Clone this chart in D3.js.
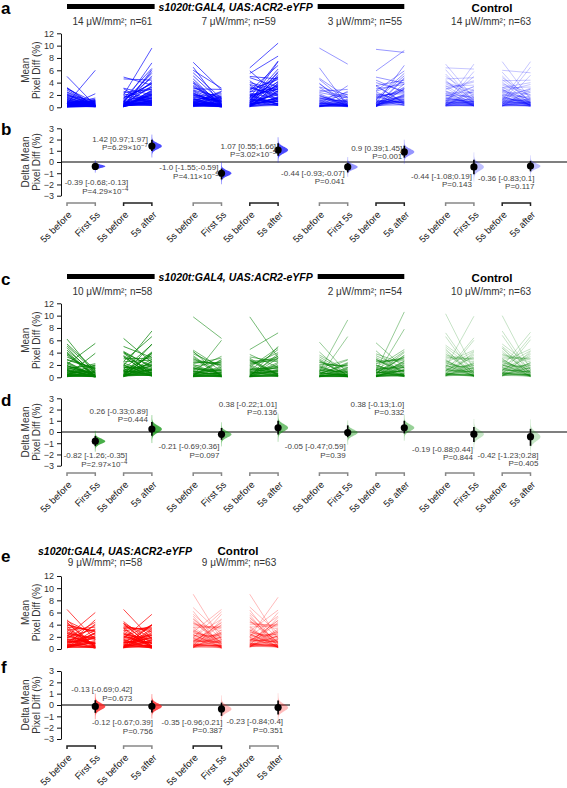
<!DOCTYPE html>
<html><head><meta charset="utf-8">
<script src="https://cdn.jsdelivr.net/npm/d3@7"></script>
<style>
body{margin:0;background:#fff}
svg{display:block}
text{font-family:"Liberation Sans",Arial,Helvetica,sans-serif}
</style>
</head><body>
<svg id="chart" width="567" height="788"></svg>
<script>
// ---------------- DATA ----------------
const xLabels = ["5s before","First 5s","5s before","5s after"];
const titleGenotype = "s1020t:GAL4, UAS:ACR2-eYFP";
const titleControl = "Control";
const aSubtitles = ["14 μW/mm²; n=61","7 μW/mm²; n=59","3 μW/mm²; n=55","14 μW/mm²; n=63"];
const cSubtitles = ["10 μW/mm²; n=58","","2 μW/mm²; n=54","10 μW/mm²; n=63"];
const eSubtitles = ["9 μW/mm²; n=58","9 μW/mm²; n=63"];
const meanTicks = [0,2,4,6,8,10,12];
const deltaTicks = [-3,-2,-1,0,1,2,3];

// panel a : paired values (before, after) per pair
const a1_before=[0.1,0.2,0.3,0.1,0.5,0.8,1.2,0.4,0.2,0.0, 0.6,1.5,2.1,0.3,0.9,1.8,3.1,0.2,0.7,1.1, 0.4,2.5,0.1,0.3,5.0,0.6,1.4,0.2,0.9,2.8, 0.5,0.1,1.7,0.3,3.2,0.4,1.0,0.2,2.2,0.6, 0.1,1.3,0.8,0.3,2.0,0.5,0.2,1.6,0.4,0.7, 3.0,0.1,0.9,0.3,1.2,0.6,2.4,0.2,0.5,1.9, 0.8];
const a1_after =[0.2,0.3,0.1,0.6,0.5,0.2,0.3,0.4,0.1,0.2, 6.0,0.3,0.2,1.3,0.8,0.6,0.1,1.1,0.9,0.4, 0.9,0.5,0.1,0.7,0.3,1.5,0.4,0.1,1.0,0.2, 0.4,2.2,0.1,0.5,0.2,1.2,0.1,0.8,0.2,0.3, 0.3,0.2,0.7,0.4,0.1,0.9,0.2,0.3,0.6,0.2, 0.8,0.4,0.1,1.0,0.3,0.6,0.2,0.5,0.1,1.1, 0.3];
const a2_before=[0.3,0.1,0.6,0.2,1.0,0.4,1.8,0.2,0.5,0.1, 2.2,0.7,0.3,4.9,0.9,0.1,1.4,0.4,3.1,0.2, 0.6,1.2,0.2,0.8,0.3,2.6,0.1,0.5,1.6,0.4, 0.2,0.9,4.6,0.3,1.1,0.6,0.2,2.0,0.1,0.7, 0.4,1.3,0.2,0.5,3.0,0.1,0.8,0.3,1.5,0.6, 0.2,1.9,0.4,0.1,0.9,2.4,0.3,0.6,1.0,0.2, 0.5];
const a2_after =[0.3,2.8,0.6,4.2,1.0,3.5,0.8,2.1,0.4,1.2, 0.9,7.2,1.4,3.6,0.5,2.5,6.3,1.1,2.0,5.1, 1.5,4.0,2.2,0.4,5.8,1.3,2.4,0.7,3.0,1.8, 2.3,0.3,4.4,0.6,1.9,3.3,1.0,9.6,2.7,0.8, 2.0,3.9,1.2,2.6,0.5,6.1,1.7,0.9,3.8,1.4, 0.8,3.2,2.0,1.1,5.5,2.9,0.4,1.6,4.8,0.7, 1.5];
const a3_before=[0.5,1.2,0.3,2.4,0.8,3.6,0.2,1.5,4.2,0.6, 7.3,1.0,2.8,0.4,5.1,1.8,0.3,3.2,0.9,6.0, 0.2,2.1,1.3,0.7,4.6,0.5,2.6,0.1,1.6,3.9, 0.8,0.4,5.6,1.1,0.3,2.3,0.6,3.0,1.4,0.2, 1.9,0.5,4.0,0.9,2.0,0.3,6.5,1.2,0.7,2.7, 0.4,1.7,0.2,3.4,0.6,1.0,0.3,2.2,0.8];
const a3_after =[0.3,2.0,0.8,0.1,1.5,0.4,1.2,0.1,0.6,0.2, 2.8,0.4,1.6,0.1,0.9,2.2,0.2,1.4,0.5,3.1, 1.8,0.7,0.0,1.3,0.2,2.5,0.3,0.6,1.0,0.1, 0.1,0.6,1.4,0.3,1.1,0.1,0.5,2.9,0.2,0.4, 1.2,0.3,0.5,2.6,0.1,1.0,0.4,1.7,0.2,0.9, 0.3,1.0,0.1,0.4,0.3,1.5,0.1,0.8,0.2];
const a4_before=[0.4,1.1,0.2,2.0,0.7,3.3,0.1,1.4,4.0,0.5, 6.4,0.9,2.5,0.3,4.8,1.6,0.2,2.9,0.8,5.5, 0.2,1.9,1.2,0.6,4.3,0.4,2.3,0.1,1.5,3.6, 0.7,0.3,5.0,1.0,0.2,2.1,0.5,2.7,1.3,0.2, 1.7,0.4,3.7,0.8,1.8,0.2,5.9,1.1,0.6,2.5, 0.3,1.5,0.1,3.1,0.5,0.9,0.2,2.0,0.7];
const a4_after =[1.2,6.2,3.1,0.4,5.0,1.8,3.9,0.6,2.8,1.5, 10.4,2.0,4.9,0.6,3.3,7.5,1.0,4.5,2.2,8.3, 5.3,2.9,0.3,4.2,1.1,5.8,1.4,2.6,3.6,0.8, 0.4,2.7,4.6,1.3,3.8,0.5,2.4,6.8,0.9,1.7, 4.1,1.5,2.5,7.4,0.5,3.4,1.9,5.6,1.0,3.2, 1.6,3.5,0.6,2.1,1.2,4.8,0.3,3.0,0.9];
const a5_before=[0.3,1.0,0.2,2.2,0.6,9.6,0.1,1.5,3.8,0.4, 6.4,0.8,2.4,0.2,4.5,1.3,0.1,2.8,0.7,0.5, 0.2,1.8,1.0,0.5,3.9,0.3,2.0,0.1,1.2,3.2, 0.6,0.2,4.7,0.9,0.1,1.9,0.4,2.6,1.1,0.2, 1.4,0.3,3.3,0.7,1.6];
const a5_after =[0.1,2.1,0.9,0.3,0.2,7.0,1.2,0.4,0.7,0.1, 0.2,0.3,1.5,0.2,0.8,2.4,0.6,1.6,0.4,3.5, 1.8,0.6,0.4,1.3,0.1,2.6,0.2,0.3,1.1,0.5, 0.3,0.7,1.6,0.1,1.0,0.2,0.4,2.9,0.5,0.3, 0.9,0.3,2.0,0.2,0.8];
const a6_before=[0.4,1.2,0.2,2.5,0.7,9.4,0.1,1.7,4.0,0.5, 5.9,0.9,2.6,0.3,4.4,1.4,0.2,3.0,0.8,0.6, 0.3,2.0,1.1,0.5,3.6,0.2,2.2,0.1,1.3,3.4, 0.6,0.3,4.9,1.0,0.1,2.0,0.4,2.7,1.2,0.2, 1.5,0.4,3.5,0.8,1.7];
const a6_after =[1.2,5.1,3.0,0.5,1.4,8.9,3.8,0.6,2.6,1.0, 9.2,1.7,4.1,0.4,2.4,5.5,0.9,3.7,1.9,6.8, 4.8,2.2,0.3,3.3,0.6,4.6,1.1,2.0,3.1,0.8, 0.5,2.1,3.9,0.9,3.0,0.3,1.8,5.9,0.7,1.3, 2.8,1.6,4.4,0.8,2.5];
const a7_before=[0.5,1.4,0.3,2.6,0.9,4.2,0.2,1.8,3.5,0.6, 7.0,1.1,2.9,0.4,5.0,1.6,0.3,3.2,1.0,6.1, 0.4,2.2,1.3,0.7,4.4,0.5,2.5,0.2,1.5,3.8, 0.8,0.4,5.4,1.2,0.3,2.3,0.6,3.0,1.4,0.2, 1.9,0.5,4.0,0.9,2.0,0.3,6.4,1.2,0.7,2.7, 0.4,1.7,0.2,3.4,0.6,1.0,0.3,2.2,0.8,4.6, 1.1,0.5,2.0];
const a7_after =[0.3,0.9,2.6,1.4,0.4,1.2,0.5,3.3,0.8,7.0, 1.5,0.6,4.1,0.2,1.9,0.7,2.8,0.4,5.0,0.9, 1.1,0.2,3.4,0.9,0.6,5.8,0.3,1.7,0.5,2.2, 0.4,3.0,0.7,1.3,0.2,2.4,0.6,4.3,0.9,0.3, 1.8,0.4,2.7,0.5,1.0,0.3,6.2,0.8,1.4,0.2, 2.1,0.5,0.9,3.6,0.3,1.2,0.4,1.6,0.7,4.8, 0.6,1.0,0.2];
const a8_before=[0.6,1.5,0.2,2.8,1.0,4.5,0.3,1.9,3.3,0.7, 7.4,1.2,2.6,0.5,4.8,1.7,0.2,3.0,1.1,5.7, 0.3,2.3,1.4,0.8,4.1,0.4,2.7,0.2,1.6,3.6, 0.9,0.5,5.1,1.3,0.2,2.5,0.7,3.2,1.5,0.3, 2.0,0.6,3.8,1.0,2.1,0.4,6.0,1.3,0.8,2.9, 0.5,1.8,0.3,3.1,0.7,1.1,0.2,2.4,0.9,4.3, 1.2,0.4,1.9];
const a8_after =[0.2,0.8,3.0,1.2,0.5,1.0,0.4,2.9,0.7,6.5, 1.3,0.5,3.7,0.3,1.7,0.8,2.5,0.3,7.4,0.7, 1.0,0.3,3.1,0.8,0.5,5.2,0.2,1.5,0.6,2.0, 0.5,2.7,0.6,1.2,0.3,2.1,0.5,4.0,0.8,0.2, 1.6,0.3,2.4,0.4,0.9,0.2,5.6,0.7,1.3,0.3, 1.9,0.4,0.8,3.3,0.2,1.1,0.5,1.4,0.6,4.4, 0.5,0.9,0.1];

// panel c
const c1_before=[0.4,1.3,0.2,2.4,0.8,3.9,0.1,1.6,6.2,0.5, 5.1,1.0,2.8,0.3,4.4,1.5,0.2,3.3,0.9,2.1, 0.3,1.9,1.2,0.6,4.8,0.4,2.5,0.1,1.4,3.6, 0.7,0.3,5.4,1.1,0.2,2.2,0.5,2.9,1.3,0.2, 1.8,0.4,3.8,0.8,1.9,0.3,4.1,1.1];
const c1_after =[0.2,2.2,0.5,0.1,1.8,0.2,1.0,0.3,0.6,0.1, 0.9,0.3,1.4,0.1,0.6,1.9,0.1,1.2,0.3,5.5, 3.9,0.5,0.0,1.1,0.1,2.0,0.2,0.4,0.8,0.1, 0.1,0.5,1.2,0.2,0.9,0.1,0.4,1.5,0.1,0.2, 0.4,1.6,0.1,0.8,0.3,1.4,0.2,0.7];
const c2_before=[0.3,1.1,0.2,2.0,0.7,3.5,0.1,1.4,4.0,0.5, 6.3,0.9,2.5,0.3,4.2,1.3,0.2,3.0,0.8,1.9, 0.2,1.7,1.0,0.5,4.1,0.4,2.3,0.1,1.2,3.3, 0.6,0.3,5.0,1.0,0.2,2.0,0.4,2.6,1.1,0.2, 1.6,0.4,3.4,0.7,1.7,0.2,3.9,1.0];
const c2_after =[0.8,3.5,1.9,0.2,4.1,1.0,2.6,0.3,1.8,0.5, 2.4,1.1,2.8,0.3,1.6,5.3,0.4,3.1,1.2,7.5, 4.0,1.5,0.2,2.9,0.5,3.8,0.7,1.3,2.2,0.4, 0.3,1.2,3.2,0.6,2.5,0.3,1.4,6.6,0.3,0.8, 1.3,5.4,0.2,1.9,0.9,3.9,0.5,2.1];
const c3_before=[0.3,1.0,0.2,2.2,0.6,3.8,0.1,1.5,9.8,0.4, 4.4,0.8,2.5,0.2,4.1,1.2,0.1,2.9,0.7,1.8, 0.2,1.6,1.0,0.5,3.5,0.3,2.1,0.1,1.3,4.2, 0.5,0.2,2.7,0.9,0.1,1.9,0.4,2.4,1.1,0.2, 1.4,0.3,3.1,0.6,1.5,0.2,3.3,0.9];
const c3_after =[0.3,1.2,0.1,3.1,0.5,1.8,0.3,0.8,6.3,0.2, 1.5,0.5,2.3,0.1,1.0,3.4,0.2,2.0,0.6,2.5, 6.0,1.0,0.1,1.7,0.2,2.9,0.4,0.8,1.3,0.1, 0.1,0.9,2.0,0.3,1.5,0.1,0.7,2.3,0.2,0.4, 0.7,2.8,0.1,1.2,0.5,2.6,0.3,1.1];
const c4_before=[0.2,0.9,0.1,1.9,0.5,3.3,0.1,1.3,9.8,0.3, 4.5,0.7,2.2,0.2,3.7,1.1,0.1,2.6,0.6,1.6, 0.1,1.4,0.9,0.4,3.1,0.2,1.9,0.1,1.1,2.8, 0.4,0.2,2.4,0.8,0.1,1.7,0.3,2.1,1.0,0.1, 1.2,0.3,2.7,0.5,1.3,0.1,2.9,0.7];
const c4_after =[0.6,1.8,0.2,4.0,0.9,2.5,0.3,1.4,3.2,0.4, 7.2,0.9,3.3,0.2,1.6,4.5,0.3,3.0,1.1,4.8, 5.0,1.5,0.1,2.4,0.4,3.8,0.6,1.2,1.9,0.3, 0.2,1.3,2.7,0.5,2.2,0.2,1.1,3.0,0.3,0.6, 0.9,3.5,0.2,1.7,0.7,3.1,0.4,1.6];
const c5_before=[0.2,0.9,0.1,1.8,0.5,3.0,0.1,1.2,5.7,0.3, 3.6,0.7,2.1,0.2,3.3,1.0,0.1,2.4,0.6,1.5, 0.1,1.3,0.8,0.4,2.8,0.2,1.7,0.1,1.0,4.1, 0.4,0.2,2.4,0.7,0.1,1.6,0.3,2.0,0.9,0.1, 1.1,0.3,2.6,0.5,1.2,0.1,2.7,0.6,0.2,1.4, 0.3,0.8,0.1,1.9];
const c5_after =[0.2,9.3,0.9,0.1,2.4,0.3,1.5,0.2,0.6,0.1, 1.1,0.4,1.9,0.1,0.7,2.8,0.1,1.6,0.4,2.9, 6.6,0.7,0.1,1.3,0.1,2.2,0.3,0.5,0.9,0.1, 0.1,0.6,1.6,0.2,1.2,0.1,0.5,1.9,0.1,0.3, 1.0,0.1,0.4,2.3,0.1,0.9,0.3,2.1,0.2,0.8, 1.5,0.1,0.5,0.2];
const c6_before=[0.3,1.0,0.1,2.0,0.6,3.2,0.1,1.3,5.6,0.4, 3.8,0.8,2.3,0.2,3.5,1.1,0.1,2.6,0.7,1.6, 0.2,1.4,0.9,0.5,3.0,0.2,1.9,0.1,1.1,4.3, 0.4,0.2,2.6,0.8,0.1,1.7,0.3,2.2,1.0,0.1, 1.2,0.3,2.8,0.6,1.3,0.1,2.9,0.7,0.2,1.5, 0.3,0.9,0.1,2.0];
const c6_after =[0.6,10.6,1.8,0.2,4.0,0.9,2.6,0.2,1.5,0.5, 2.2,1.0,3.2,0.2,1.5,4.2,0.3,2.9,1.1,4.5, 7.8,1.5,0.1,2.4,0.3,3.6,0.7,1.2,1.9,0.3, 0.2,1.3,2.7,0.4,2.2,0.2,1.1,3.1,0.3,0.6, 2.0,0.3,0.9,3.5,0.2,1.7,0.8,3.3,0.4,1.6, 2.6,0.1,1.2,0.4];
const c7_before=[0.5,1.6,0.3,2.8,1.0,4.4,0.2,2.0,10.3,0.6, 5.2,1.2,3.2,0.4,4.9,1.7,0.3,3.6,1.1,2.4, 0.4,2.3,1.4,0.8,4.1,0.5,2.7,0.2,1.6,6.6, 0.7,0.4,3.4,1.3,0.3,2.5,0.6,3.0,1.5,0.2, 1.8,0.5,3.8,0.9,2.0,0.3,7.2,1.1,0.4,2.2, 0.6,1.5,0.2,2.9,0.8,1.9,0.3,4.6,1.0,0.5, 2.6,0.7,1.2];
const c7_after =[0.4,9.9,1.6,0.1,3.8,0.7,2.3,0.2,1.2,0.3, 1.9,0.8,3.1,0.2,1.3,4.2,0.3,2.8,0.9,4.4, 6.0,1.2,0.1,2.2,0.3,3.6,0.6,1.1,1.9,0.3, 0.1,1.2,2.5,0.4,2.0,0.2,1.0,3.0,0.3,0.5, 1.8,0.3,0.8,6.4,0.2,1.6,0.7,3.3,0.3,1.4, 0.3,0.7,4.1,0.2,1.5,0.6,2.5,0.1,1.1,0.4, 0.9,0.5,2.2];
const c8_before=[0.6,1.7,0.3,3.0,1.1,4.7,0.2,2.1,10.0,0.7, 5.4,1.3,3.3,0.4,5.0,1.8,0.3,3.7,1.2,2.5, 0.5,2.4,1.5,0.9,4.3,0.6,2.8,0.2,1.7,6.8, 0.8,0.4,3.6,1.4,0.3,2.6,0.7,3.1,1.6,0.3, 1.9,0.6,4.0,1.0,2.1,0.4,7.5,1.2,0.5,2.3, 0.7,1.6,0.2,3.0,0.9,2.0,0.4,4.8,1.1,0.6, 2.7,0.8,1.3];
const c8_after =[0.4,7.3,1.6,0.1,3.9,0.7,2.4,0.2,1.2,0.4, 1.9,0.8,3.1,0.2,1.3,4.3,0.2,2.8,0.9,4.6, 6.1,1.2,0.1,2.2,0.3,3.7,0.6,1.0,1.9,0.3, 0.1,1.1,2.5,0.4,2.0,0.2,1.0,3.0,0.2,0.5, 1.8,0.3,0.8,6.6,0.2,1.6,0.7,3.4,0.3,1.4, 0.3,0.7,4.2,0.2,1.5,0.6,2.4,0.1,1.1,0.4, 0.9,0.5,2.2];

// panel e
const e1_before=[0.5,1.8,0.3,3.2,1.1,4.8,0.2,2.3,6.5,0.7, 4.6,1.4,3.6,0.4,2.7,1.9,0.3,3.9,1.2,2.1, 0.4,2.5,1.6,0.9,4.3,0.6,2.9,0.2,1.5,3.4, 0.8,0.3,4.0,1.3,0.2,2.6,0.6,3.1,1.7,0.3, 2.0,0.5,3.7,1.0,2.2,0.4,4.4,1.1];
const e1_after =[1.0,4.4,1.9,0.5,3.9,0.3,2.6,0.7,1.5,0.4, 2.4,0.9,3.0,0.2,1.6,3.3,0.3,2.9,1.1,6.0, 2.7,1.8,0.1,2.5,0.3,4.8,0.5,1.2,2.1,0.6, 0.2,1.4,2.8,0.4,2.2,0.3,1.0,3.6,0.9,0.5, 0.9,4.1,0.2,1.9,0.8,3.2,0.3,1.7];
const e2_before=[0.6,1.7,0.4,3.0,1.0,4.5,0.2,2.2,6.5,0.8, 4.2,1.3,3.4,0.5,2.5,1.8,0.3,3.6,1.1,2.0, 0.3,2.4,1.5,0.8,4.1,0.5,2.7,0.2,1.4,3.3, 0.7,0.3,3.8,1.2,0.2,2.5,0.5,3.0,1.6,0.2, 1.9,0.4,3.5,1.0,2.1,0.3,4.2,1.0];
const e2_after =[0.6,5.7,2.0,0.3,4.0,0.9,2.7,0.5,1.6,0.4, 1.8,1.0,3.4,0.2,1.6,2.3,0.4,3.1,1.2,3.9, 3.0,1.3,0.1,2.5,0.4,3.9,0.6,1.4,2.2,0.3, 0.2,1.5,2.8,0.4,2.3,0.2,1.1,3.6,0.2,0.6, 0.9,4.0,0.2,1.9,0.9,3.3,0.4,1.7];
const e3_before=[0.6,1.9,0.3,3.3,1.2,5.0,0.2,2.4,9.0,0.8, 6.8,1.5,3.8,0.4,5.7,2.0,0.3,4.2,1.3,2.8, 0.5,2.7,1.7,1.0,4.6,0.6,3.1,0.2,1.9,6.2, 0.9,0.4,4.1,1.5,0.3,2.9,0.7,3.5,1.8,0.3, 2.2,0.6,4.4,1.1,2.4,0.4,4.9,1.3,0.5,2.6, 0.7,1.8,0.2,3.6,1.0,2.2,0.4,5.4,1.2,0.6, 3.0,0.8,1.4];
const e3_after =[0.6,6.1,2.0,0.2,4.3,0.9,2.8,0.2,1.5,0.5, 2.4,1.0,3.6,0.2,1.7,4.9,0.3,3.3,1.2,6.5, 5.7,1.6,0.1,2.7,0.5,4.0,0.8,1.4,2.3,0.4, 0.2,1.5,3.0,0.5,2.5,0.2,1.2,3.6,0.3,0.7, 2.3,0.4,1.1,4.4,0.3,2.1,0.9,3.9,0.4,1.9, 0.5,1.0,4.8,0.3,1.9,0.8,3.1,0.1,1.5,0.6, 1.2,0.6,2.6];
const e4_before=[0.7,2.0,0.4,3.5,1.3,5.2,0.3,2.5,9.0,0.9, 6.9,1.6,4.0,0.5,5.9,2.1,0.4,4.4,1.4,2.9, 0.6,2.8,1.8,1.1,4.8,0.7,3.2,0.3,2.0,6.4, 1.0,0.5,4.3,1.6,0.4,3.0,0.8,3.6,1.9,0.4, 2.3,0.7,4.6,1.2,2.5,0.5,5.1,1.4,0.6,2.7, 0.8,1.9,0.3,3.7,1.1,2.3,0.5,5.6,1.3,0.7, 3.1,0.9,1.5];
const e4_after =[0.7,8.5,2.2,0.2,4.7,1.0,3.1,0.3,1.7,0.5, 2.6,1.1,4.0,0.3,1.8,5.4,0.4,3.6,1.3,6.4, 6.0,1.7,0.2,2.9,0.5,4.4,0.9,1.5,2.5,0.4, 0.3,1.6,3.3,0.6,2.7,0.3,1.3,3.9,0.3,0.8, 2.4,0.4,1.2,4.7,0.3,2.2,1.0,4.2,0.5,2.0, 0.5,1.0,5.2,0.3,2.0,0.9,3.3,0.2,1.6,0.6, 1.2,0.7,2.8];

// delta (bootstrap) summaries
const b_mean=[-0.39,1.42,-1.0,1.07,-0.44,0.9,-0.44,-0.36];
const b_lo  =[-0.68,0.97,-1.55,0.55,-0.93,0.39,-1.08,-0.83];
const b_hi  =[-0.13,1.97,-0.59,1.66,-0.07,1.45,0.19,0.1];
const b_ci  =["-0.39 [-0.68;-0.13]","1.42 [0.97;1.97]","-1.0 [-1.55;-0.59]","1.07 [0.55;1.66]","-0.44 [-0.93;-0.07]","0.9 [0.39;1.45]","-0.44 [-1.08;0.19]","-0.36 [-0.83;0.1]"];
const b_p   =["4.29×10^−4","6.29×10^−7","4.11×10^−5","3.02×10^−5","0.041","0.001","0.143","0.117"];

const d_mean=[-0.82,0.26,-0.21,0.38,-0.05,0.38,-0.19,-0.42];
const d_lo  =[-1.26,-0.33,-0.69,-0.22,-0.47,-0.13,-0.88,-1.23];
const d_hi  =[-0.35,0.89,0.36,1.01,0.59,1.0,0.44,0.28];
const d_ci  =["-0.82 [-1.26;-0.35]","0.26 [-0.33;0.89]","-0.21 [-0.69;0.36]","0.38 [-0.22;1.01]","-0.05 [-0.47;0.59]","0.38 [-0.13;1.0]","-0.19 [-0.88;0.44]","-0.42 [-1.23;0.28]"];
const d_p   =["2.97×10^−4","0.444","0.097","0.136","0.39","0.332","0.844","0.405"];

const f_mean=[-0.13,-0.12,-0.35,-0.23];
const f_lo  =[-0.69,-0.67,-0.96,-0.84];
const f_hi  =[0.42,0.39,0.21,0.4];
const f_ci  =["-0.13 [-0.69;0.42]","-0.12 [-0.67;0.39]","-0.35 [-0.96;0.21]","-0.23 [-0.84;0.4]"];
const f_p   =["0.673","0.756","0.387","0.351"];

// ---------------- LAYOUT ----------------
const bLabelDx=[33,-4,-3,-2,-3,-2,-2,4],  bLabelDy=[16,-7,-6,-4,6,-4,9,12];
const dLabelDx=[32,-4,-2,-1,-2,0,-1,8],   dLabelDy=[14,-18,12,-24,14,-24,15,18];
const fLabelDx=[37,1,1,5],                fLabelDy=[-17,16,13,14];

const svg = d3.select("#chart");
const GAP = 0.46;
const slotPos = d3.range(16).map(k => k + Math.floor(k/4)*GAP);
const x = d3.scaleLinear().domain([0, 15 + 3*GAP]).range([67, 530.5]);
const colX = k => x(slotPos[k]);
const AXX = 61;
const intFmt = d3.format("d");

function styleAxis(ax){
  ax.select(".domain").attr("stroke","#111").attr("stroke-width",1);
  ax.selectAll(".tick line").attr("stroke","#111");
  ax.selectAll(".tick text").attr("fill","#333").attr("font-size",9)
    .attr("font-family",'"Liberation Sans",Arial,sans-serif');
}
function yLabel(lines, cy){
  const t = svg.append("text").attr("transform",`translate(34,${cy}) rotate(-90)`)
    .attr("text-anchor","middle").attr("font-size",10).attr("fill","#333");
  t.append("tspan").attr("x",0).attr("dy",-5.5).text(lines[0]);
  t.append("tspan").attr("x",0).attr("dy",11).text(lines[1]);
}
function panelLetter(s, yb){
  svg.append("text").attr("x",1).attr("y",yb).attr("font-size",17).attr("font-weight","bold").attr("fill","#000").text(s);
}

function pairedPanel(top, bottom, befores, afters, color, opac){
  const y = d3.scaleLinear().domain([0,12]).range([bottom, top]);
  befores.forEach((bArr,k)=>{
    const aArr = afters[k];
    svg.append("g").selectAll("line").data(d3.range(bArr.length)).join("line")
      .attr("x1", colX(2*k)).attr("x2", colX(2*k+1))
      .attr("y1", i=>y(bArr[i])).attr("y2", i=>y(aArr[i]))
      .attr("stroke", color).attr("stroke-opacity", opac[Math.floor(k/2)]).attr("stroke-width",0.9);
  });
  const ax = svg.append("g").attr("transform",`translate(${AXX},0)`)
    .call(d3.axisLeft(y).tickValues(meanTicks).tickSize(4).tickSizeOuter(0).tickFormat(intFmt));
  styleAxis(ax);
  yLabel(["Mean","Pixel Diff (%)"], (top+bottom)/2);
  return y;
}

function deltaPanel(o){
  const y = d3.scaleLinear().domain([-3,3]).range([o.bottom, o.top]);
  svg.append("line").attr("x1",AXX).attr("x2",o.zeroEnd).attr("y1",y(0)).attr("y2",y(0))
    .attr("stroke",o.zeroColor).attr("stroke-width",o.zeroWidth);
  const ax = svg.append("g").attr("transform",`translate(${AXX},0)`)
    .call(d3.axisLeft(y).tickValues(deltaTicks).tickSize(4).tickSizeOuter(0).tickFormat(intFmt));
  styleAxis(ax);
  yLabel(["Delta Mean","Pixel Diff (%)"], (o.top+o.bottom)/2);
  o.mean.forEach((m,k)=>{
    const cx = colX(2*k+1);
    const sd = (o.hi[k]-o.lo[k])/3.92;
    const op = o.opac[Math.floor(k/2)];
    const pts = d3.range(-4,4.01,0.1).map(z=>[m+z*sd, Math.exp(-z*z/2)]);
    const area = d3.area().curve(d3.curveBasis).y(d=>y(d[0])).x0(cx).x1(d=>cx+d[1]*10);
    svg.append("path").attr("d",area(pts)).attr("fill",o.color).attr("fill-opacity",op);
    svg.append("line").attr("x1",cx).attr("x2",cx).attr("y1",y(m-4*sd)).attr("y2",y(m+4*sd))
      .attr("stroke",o.color).attr("stroke-opacity",op*0.6).attr("stroke-width",0.8);
    svg.append("line").attr("x1",cx).attr("x2",cx).attr("y1",y(o.lo[k])).attr("y2",y(o.hi[k]))
      .attr("stroke","#000").attr("stroke-width",1.6);
    svg.append("circle").attr("cx",cx).attr("cy",y(m)).attr("r",3.6).attr("fill","#000");
    const tx = cx + o.dx[k], ty = y(m) + o.dy[k];
    svg.append("text").attr("x",tx).attr("y",ty).attr("dy","0.35em").attr("text-anchor","end")
      .attr("font-size",8).attr("fill","#444").text(o.ci[k]);
    const pt = svg.append("text").attr("x",tx).attr("y",ty+8.5).attr("dy","0.35em").attr("text-anchor","end")
      .attr("font-size",8).attr("fill","#444");
    const parts = o.p[k].split("^");
    pt.append("tspan").text("P=" + parts[0]);
    if(parts[1]) pt.append("tspan").attr("dy",-3).attr("font-size",6).text(parts[1]);
  });
  o.mean.forEach((m,k)=>{
    const x1 = colX(2*k), x2 = colX(2*k+1), by = o.bracketY;
    svg.append("path").attr("d",`M${x1},${by+3}V${by}H${x2}V${by+3}`)
      .attr("fill","none").attr("stroke",o.bracketColors[k]).attr("stroke-width",1.5);
  });
  d3.range(o.mean.length*2).forEach(k=>{
    svg.append("text").attr("transform",`translate(${colX(k)+3},${o.bracketY+10}) rotate(-45)`)
      .attr("text-anchor","end").attr("dy","0.35em").attr("font-size",9.5).attr("fill","#222")
      .text(xLabels[k%4]);
  });
}

function header(titleX, titleY, withBars, barL, barR){
  const t = svg.append("text").attr("x",titleX).attr("y",titleY).attr("text-anchor","middle")
    .attr("font-size",10.5).attr("font-weight","bold").attr("font-style","italic").attr("fill","#000").text(titleGenotype);
  if(withBars){
    const w = t.node().getComputedTextLength();
    svg.append("rect").attr("x",barL).attr("y",titleY-7).attr("width",titleX-w/2-4-barL).attr("height",5).attr("fill","#000");
    svg.append("rect").attr("x",titleX+w/2+5).attr("y",titleY-7).attr("width",barR-(titleX+w/2+5)).attr("height",5).attr("fill","#000");
  }
}
function controlTitle(cx, yb){
  svg.append("text").attr("x",cx).attr("y",yb).attr("text-anchor","middle").attr("font-size",11.5)
    .attr("font-weight","bold").attr("fill","#000").text(titleControl);
}
function subtitles(list, centers, yb){
  list.forEach((s,i)=>{ if(!s) return;
    svg.append("text").attr("x",centers[i]).attr("y",yb).attr("text-anchor","middle")
      .attr("font-size",10).attr("fill","#333").text(s);
  });
}
const groupCenter = g => (colX(4*g)+colX(4*g+3))/2 + 3;

// ---------------- PANEL a / b ----------------
panelLetter("a",14);
header((colX(0)+colX(11))/2, 11, true, colX(0), colX(11));
controlTitle(groupCenter(3)+1, 12);
subtitles(aSubtitles, [0,1,2,3].map(groupCenter), 25);
pairedPanel(33.3, 107.3,
  [a1_before,a2_before,a3_before,a4_before,a5_before,a6_before,a7_before,a8_before],
  [a1_after,a2_after,a3_after,a4_after,a5_after,a6_after,a7_after,a8_after],
  "#0000ff",[0.75,0.75,0.45,0.25]);
panelLetter("b",135);
deltaPanel({top:128.3,bottom:195.7,mean:b_mean,lo:b_lo,hi:b_hi,ci:b_ci,p:b_p,dx:bLabelDx,dy:bLabelDy,
  color:"#2b2bff",opac:[0.85,0.85,0.5,0.3],zeroEnd:567,zeroColor:"#000",zeroWidth:1.2,bracketY:203,
  bracketColors:["#888","#222","#888","#222","#888","#222","#888","#222"]});

// ---------------- PANEL c / d ----------------
panelLetter("c",285);
header((colX(0)+colX(11))/2, 281, true, colX(0), colX(11));
controlTitle(groupCenter(3)+1, 282);
subtitles(cSubtitles, [0,1,2,3].map(groupCenter), 295);
pairedPanel(303.3, 377.3,
  [c1_before,c2_before,c3_before,c4_before,c5_before,c6_before,c7_before,c8_before],
  [c1_after,c2_after,c3_after,c4_after,c5_after,c6_after,c7_after,c8_after],
  "#008000",[0.8,0.6,0.45,0.25]);
panelLetter("d",406);
deltaPanel({top:398.3,bottom:465.7,mean:d_mean,lo:d_lo,hi:d_hi,ci:d_ci,p:d_p,dx:dLabelDx,dy:dLabelDy,
  color:"#1a9a1a",opac:[0.8,0.6,0.45,0.25],zeroEnd:567,zeroColor:"#000",zeroWidth:1.2,bracketY:473,
  bracketColors:["#888","#888","#888","#888","#888","#888","#888","#888"]});

// ---------------- PANEL e / f ----------------
panelLetter("e",562);
header(115, 555, false);
controlTitle(238, 555);
subtitles(eSubtitles, [105,239], 566);
pairedPanel(576, 649,
  [e1_before,e2_before,e3_before,e4_before],
  [e1_after,e2_after,e3_after,e4_after],
  "#ff0000",[0.8,0.3]);
panelLetter("f",673);
deltaPanel({top:671,bottom:739,mean:f_mean,lo:f_lo,hi:f_hi,ci:f_ci,p:f_p,dx:fLabelDx,dy:fLabelDy,
  color:"#ff2020",opac:[0.8,0.3],zeroEnd:290,zeroColor:"#777",zeroWidth:2,bracketY:746,
  bracketColors:["#222","#888","#222","#888"]});
</script>
</body></html>
